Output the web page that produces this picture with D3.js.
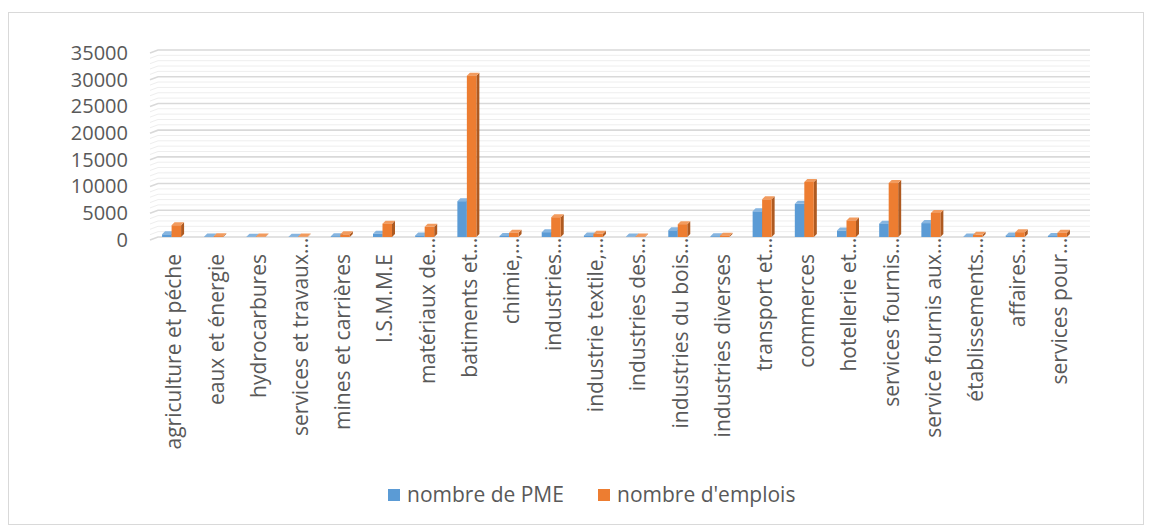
<!DOCTYPE html>
<html>
<head>
<meta charset="utf-8">
<title>PME et emplois par secteur</title>
<script src="https://d3js.org/d3.v7.min.js"></script>
<style>
  body { margin: 0; background: #fff; }
  text { font-family: "Open Sans", Lato, sans-serif; fill: #595959; }
</style>
</head>
<body>
<div id="my_dataviz"></div>
<script>

// data
var categories = ["agriculture et péche", "eaux et énergie", "hydrocarbures", "services et travaux…",
  "mines et carrières", "I.S.M.M.E", "matériaux de…", "batiments et…", "chimie,…", "industries…",
  "industrie textile,…", "industries des…", "industries du bois…", "industries diverses", "transport et…",
  "commerces", "hotellerie et…", "services fournis…", "service fournis aux…", "établissements…",
  "affaires…", "services pour…"];
var seriesNames = ["nombre de PME", "nombre d'emplois"];
var pme = [500, 100, 50, 50, 150, 600, 300, 6700, 200, 900, 300, 80, 1250, 150, 4800, 6200, 1200, 2500, 2600, 100, 300, 200];
var emplois = [2200, 150, 80, 80, 500, 2500, 1900, 30200, 800, 3700, 600, 100, 2400, 250, 7050, 10300, 3100, 10100, 4500, 400, 900, 800];
var yTicks = [0, 5000, 10000, 15000, 20000, 25000, 30000, 35000];
var colors = ["#5b9bd5", "#ed7d31"];
var sides = ["#41719c", "#ae5a21"];
var tops = ["#86b5e0", "#f29b5e"];

var width = 1152, height = 525;
var depthX = 8, depthY = -3;   // wall depth offset

var svg = d3.select("#my_dataviz")
  .append("svg")
    .attr("width", width)
    .attr("height", height);

// chart frame
svg.append("rect")
  .attr("x", 8.5).attr("y", 12.5)
  .attr("width", 1135).attr("height", 512)
  .attr("fill", "none")
  .attr("stroke", "#d9d9d9");

var x0 = d3.scaleBand()
  .domain(categories)
  .range([152, 1080]);

var x1 = d3.scaleBand()
  .domain(seriesNames)
  .range([x0.bandwidth() / 2 - 11, x0.bandwidth() / 2 + 8]);

var y = d3.scaleLinear()
  .domain([0, 35000])
  .range([237, 50]);

// minor wall lines
var minor = d3.range(0, 35001, 1000).filter(function(v) { return v % 5000 != 0; });
svg.selectAll("minorLines")
  .data(minor)
  .enter()
  .append("path")
    .attr("fill", "none")
    .attr("stroke", "#eeeeee")
    .attr("stroke-width", 1)
    .attr("d", function(d) {
      var yy = y(d) + 3;
      return "M150," + yy + "L" + (150 + depthX) + "," + (yy + depthY) + "L1090," + (yy + depthY);
    });

// major gridlines
svg.selectAll("gridLines")
  .data(yTicks)
  .enter()
  .append("path")
    .attr("fill", "none")
    .attr("stroke", "#d9d9d9")
    .attr("stroke-width", 1.6)
    .attr("d", function(d) {
      var yy = y(d) + 3;
      return "M150," + yy + "L" + (150 + depthX) + "," + (yy + depthY) + "L1090," + (yy + depthY);
    });

// y axis labels
svg.append("g")
  .attr("transform", "translate(128,3)")
  .call(d3.axisLeft(y).tickValues(yTicks).tickFormat(d3.format("d")).tickSize(0).tickPadding(0))
  .call(function(g) { g.select(".domain").remove(); })
  .selectAll("text")
    .style("font-family", "'Open Sans', sans-serif")
    .style("font-size", "20px")
    .attr("fill", "#595959");

// bars
var rows = categories.map(function(c, i) { return {cat: c, vals: [pme[i], emplois[i]]}; });

var groups = svg.selectAll("groups")
  .data(rows)
  .enter()
  .append("g")
    .attr("transform", function(d) { return "translate(" + x0(d.cat) + ",0)"; });

var bars = groups.selectAll("bars")
  .data(function(d) { return d.vals.map(function(v, k) { return {k: k, v: v}; }); })
  .enter()
  .append("g");

var dx = 3, dy = -3;
bars.append("path")   // side face
  .attr("fill", function(d) { return sides[d.k]; })
  .attr("d", function(d) {
    var xr = x1(seriesNames[d.k]) + x1.bandwidth(), yt = y(d.v), yb = y(0);
    return "M" + xr + "," + yb + "L" + (xr + dx) + "," + (yb + dy) + "L" + (xr + dx) + "," + (yt + dy) + "L" + xr + "," + yt + "Z";
  });
bars.append("path")   // top face
  .attr("fill", function(d) { return tops[d.k]; })
  .attr("d", function(d) {
    var xl = x1(seriesNames[d.k]), xr = xl + x1.bandwidth(), yt = y(d.v);
    return "M" + xl + "," + yt + "L" + (xl + dx) + "," + (yt + dy) + "L" + (xr + dx) + "," + (yt + dy) + "L" + xr + "," + yt + "Z";
  });
bars.append("rect")   // front face
  .attr("fill", function(d) { return colors[d.k]; })
  .attr("x", function(d) { return x1(seriesNames[d.k]); })
  .attr("width", x1.bandwidth())
  .attr("y", function(d) { return y(d.v); })
  .attr("height", function(d) { return y(0) - y(d.v); });

// category labels, rotated; the ellipsis sits past the end
var labelY = 254;
var lab = svg.selectAll("catLabels")
  .data(categories)
  .enter()
  .append("g")
    .attr("transform", function(d) { return "translate(" + (x0(d) + x0.bandwidth() / 2 + 1) + "," + labelY + ") rotate(-90)"; });

lab.append("text")
  .attr("text-anchor", "end")
  .attr("dy", "0.35em")
  .style("font-size", "21px")
  .text(function(d) { return d.replace("…", ""); });

lab.filter(function(d) { return d.indexOf("…") >= 0; })
  .append("text")
  .attr("text-anchor", "start")
  .attr("dy", "0.35em")
  .style("font-size", "21px")
  .text("…");

// legend
var legend = svg.selectAll("legend")
  .data(seriesNames)
  .enter()
  .append("g")
    .attr("transform", function(d, i) { return "translate(" + (388 + i * 210) + ",489)"; });

legend.append("rect")
  .attr("width", 12).attr("height", 12)
  .attr("fill", function(d, i) { return colors[i]; });

legend.append("text")
  .attr("x", 19).attr("y", 13)
  .style("font-size", "21px")
  .text(function(d) { return d; });

</script>
</body>
</html>
